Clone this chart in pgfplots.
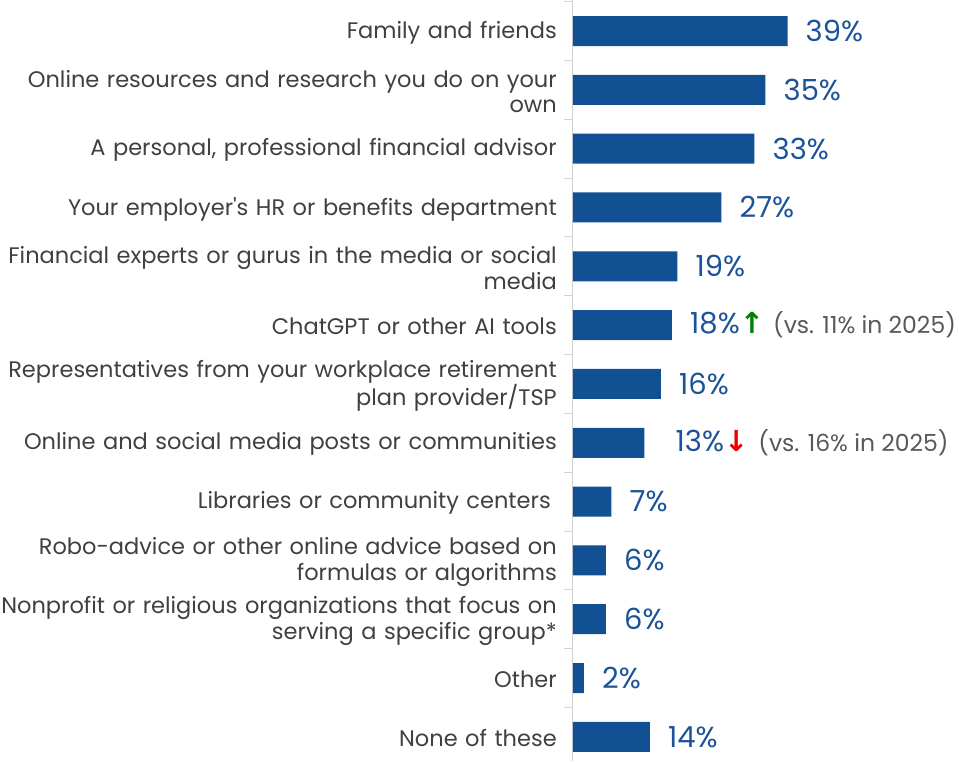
\documentclass[border=0pt]{standalone}
\usepackage{pgfplots}
\pgfplotsset{compat=1.18}
\usepackage{fontspec}
\setmainfont{Poppins}[Ligatures=TeXOff]
\newfontfamily\valfont[Numbers=Monospaced]{Poppins}
\newfontfamily\symfont{DejaVu Sans}
\definecolor{barblue}{RGB}{18,80,148}
\definecolor{lblue}{RGB}{28,82,152}
\definecolor{labgray}{RGB}{64,64,64}
\definecolor{notegray}{RGB}{89,89,89}
\definecolor{upgreen}{RGB}{0,128,0}
\definecolor{downred}{RGB}{235,0,0}
\protected\def\up{{\symfont\bfseries\color{upgreen}↑}}
\protected\def\down{{\symfont\bfseries\color{downred}↓}}
\protected\def\note#1{{\color{notegray}\fontsize{23.5}{26}\selectfont #1}}
\begin{document}
\begin{tikzpicture}
\begin{axis}[
    at={(0,0)}, anchor=south west,
    scale only axis, width=386pt, height=761pt,
    xbar, bar width=30pt,
    xmin=0, xmax=70.18,
    ymin=-0.527, ymax=12.41, y dir=reverse,
    hide x axis,
    axis y line*=left,
    y axis line style={-, draw=black!18, line width=1pt},
    ytick pos=left,
    ytick={0,...,12},
    yticklabels={
        Family and friends,
        Online resources and research you do on your\\own,
        {A personal, professional financial advisor},
        Your employer's HR or benefits department,
        Financial experts or gurus in the media or social\\media,
        ChatGPT or other AI tools,
        Representatives from your workplace retirement\\plan provider/TSP,
        Online and social media posts or communities,
        Libraries or community centers\hspace*{6pt},
        Robo-advice or other online advice based on\\formulas or algorithms,
        Nonprofit or religious organizations that focus on\\serving a specific group*,
        Other,
        None of these},
    major tick length=0pt,
    minor ytick={-0.5,0.5,...,11.5},
    minor tick length=9pt,
    tick align=outside,
    every minor tick/.style={draw=black!18, line width=1pt},
    yticklabel style={align=right, text width=575pt, inner sep=0pt,
        xshift=-16pt, yshift=-1.5pt,
        font=\fontsize{22.5}{25.5}\selectfont, text=labgray},
    point meta=explicit symbolic,
    nodes near coords,
    every node near coord/.style={anchor=west, xshift=18pt, inner sep=0pt,
        font=\valfont\fontsize{29}{30}\selectfont, text=lblue},
]
\addplot[fill=barblue, draw=none] coordinates {
    (39,0) [39\%]
    (35,1) [35\%]
    (33,2) [33\%]
    (27,3) [27\%]
    (19,4) [19\%]
    (18,5) [{18\%\up\hspace{9pt}\note{(vs. 11\% in 2025)}}]
    (16,6) [16\%]
    (13,7) [{\hspace*{13pt}13\%\down\hspace{10pt}\note{(vs. 16\% in 2025)}}]
    (7,8) [7\%]
    (6,9) [6\%]
    (6,10) [6\%]
    (2,11) [2\%]
    (14,12) [14\%]
};
\end{axis}
\pgfresetboundingbox
\path (-573pt,0pt) rectangle (386pt,761pt);
\end{tikzpicture}
\end{document}
